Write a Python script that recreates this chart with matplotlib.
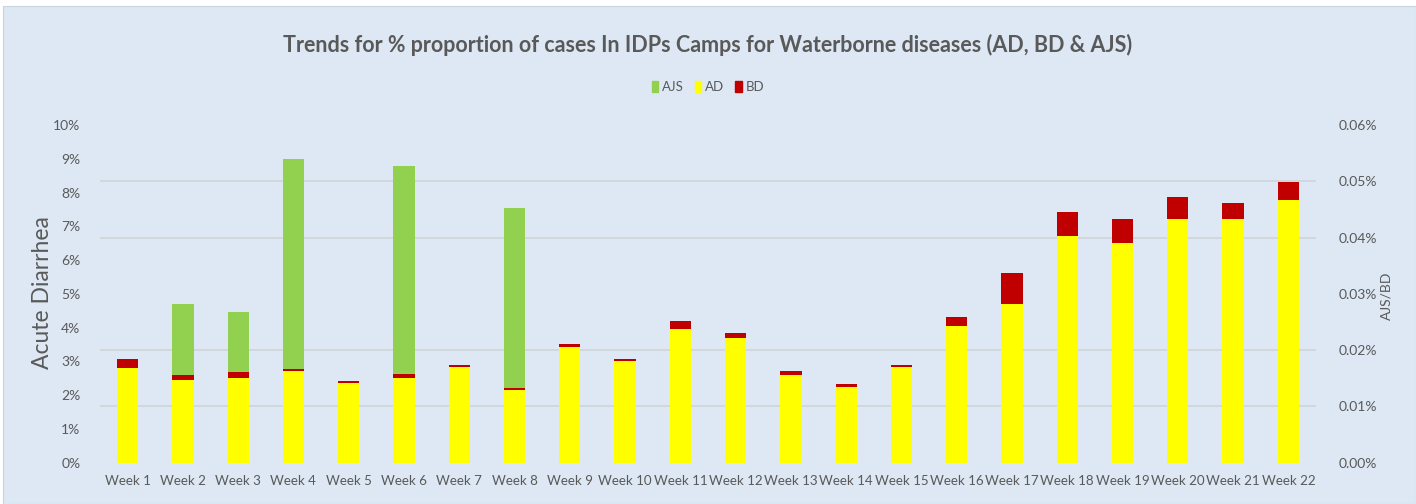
import matplotlib
matplotlib.use('Agg')
import matplotlib.pyplot as plt
from matplotlib.patches import Patch, Rectangle
import matplotlib.ticker as mticker
import numpy as np

weeks = ['Week %d' % i for i in range(1, 23)]

# Acute Diarrhea, % (left axis)
ad = [2.80, 2.46, 2.51, 2.72, 2.37, 2.50, 2.84, 2.15, 3.43, 3.02, 3.95,
      3.68, 2.59, 2.23, 2.84, 4.04, 4.70, 6.71, 6.50, 7.21, 7.21, 7.77]
# Bloody Diarrhea, % (right axis)
bd = [0.0016, 0.0008, 0.0010, 0.0003, 0.0003, 0.0008, 0.0003, 0.0003, 0.0005,
      0.0003, 0.0014, 0.0009, 0.0008, 0.0006, 0.0003, 0.0016, 0.0055, 0.0043,
      0.0043, 0.0039, 0.0029, 0.0032]
# Acute Jaundice Syndrome, % (right axis)
ajs = [0, 0.0127, 0.0107, 0.0374, 0, 0.0369, 0, 0.0321, 0, 0, 0,
       0, 0, 0, 0, 0, 0, 0, 0, 0, 0, 0]

GREY = '#595959'
BG = '#dde8f4'
plt.rcParams['font.family'] = ['Lato', 'DejaVu Sans']

fig = plt.figure(figsize=(14.16, 5.04), dpi=100)
fig.patch.set_facecolor('white')
fig.patches.append(Rectangle((0.002, 0), 0.998, 0.988, transform=fig.transFigure,
                             facecolor=BG, edgecolor='#c8d4e2', lw=0.8, zorder=-1))

ax = fig.add_axes([0.0706, 0.082, 0.8588, 0.670])
ax2 = ax.twinx()
ax.patch.set_visible(False)
ax2.patch.set_visible(False)

x = np.arange(len(weeks))
w = 0.385
left_max, right_max = 10, 0.06
scale = right_max / left_max

ax.bar(x, ad, width=w, color='#ffff00', zorder=2)
ad_r = np.array(ad) * scale
ax2.bar(x, bd, width=w, bottom=ad_r, color='#c00000', zorder=2)
ax2.bar(x, ajs, width=w, bottom=ad_r + np.array(bd), color='#92d050', zorder=2)

ax.set_ylim(0, left_max)
ax2.set_ylim(0, right_max)
ax.set_xlim(-0.5, len(weeks) - 0.5)

ax.set_yticks(np.arange(0, 11, 1))
ax.yaxis.set_major_formatter(mticker.FuncFormatter(lambda v, p: '%d%%' % v))
ax2.set_yticks(np.arange(0, 0.061, 0.01))
ax2.yaxis.set_major_formatter(mticker.FuncFormatter(lambda v, p: '%.2f%%' % v))

# gridlines follow the right axis ticks
ax.yaxis.set_minor_locator(mticker.FixedLocator(np.arange(0, 10.01, 10 / 6)))
ax.grid(which='minor', axis='y', color='#d0d4d8', lw=1.2, zorder=0)
ax.set_axisbelow(True)

ax.set_xticks(x)
ax.set_xticklabels(weeks)
for a in (ax, ax2):
    for s in a.spines.values():
        s.set_visible(False)
    a.tick_params(axis='both', which='both', length=0, colors=GREY, labelsize=10)
ax.tick_params(axis='x', labelsize=9.6, pad=9)
ax.tick_params(axis='y', pad=14)
ax2.tick_params(axis='y', pad=16)

fig.text(0.0297, 0.42, 'Acute Diarrhea', rotation=90, ha='center', va='center',
         fontsize=16.5, color=GREY)
fig.text(0.979, 0.413, 'AJS/BD', rotation=90, ha='center', va='center',
         fontsize=10, color=GREY)

fig.text(0.5, 0.911, 'Trends for % proportion of cases In IDPs Camps for Waterborne diseases (AD, BD & AJS)',
         ha='center', va='center', fontsize=15.5, fontweight='bold', color=GREY)

handles = [Patch(color='#92d050', label='AJS'),
           Patch(color='#ffff00', label='AD'),
           Patch(color='#c00000', label='BD')]
fig.legend(handles=handles, loc='center', bbox_to_anchor=(0.5, 0.827), ncol=3,
           frameon=False, fontsize=9.5, handlelength=0.5, handleheight=0.9,
           handletextpad=0.3, columnspacing=0.8, labelcolor=GREY)

fig.savefig('out.png', dpi=100, facecolor=fig.get_facecolor())
